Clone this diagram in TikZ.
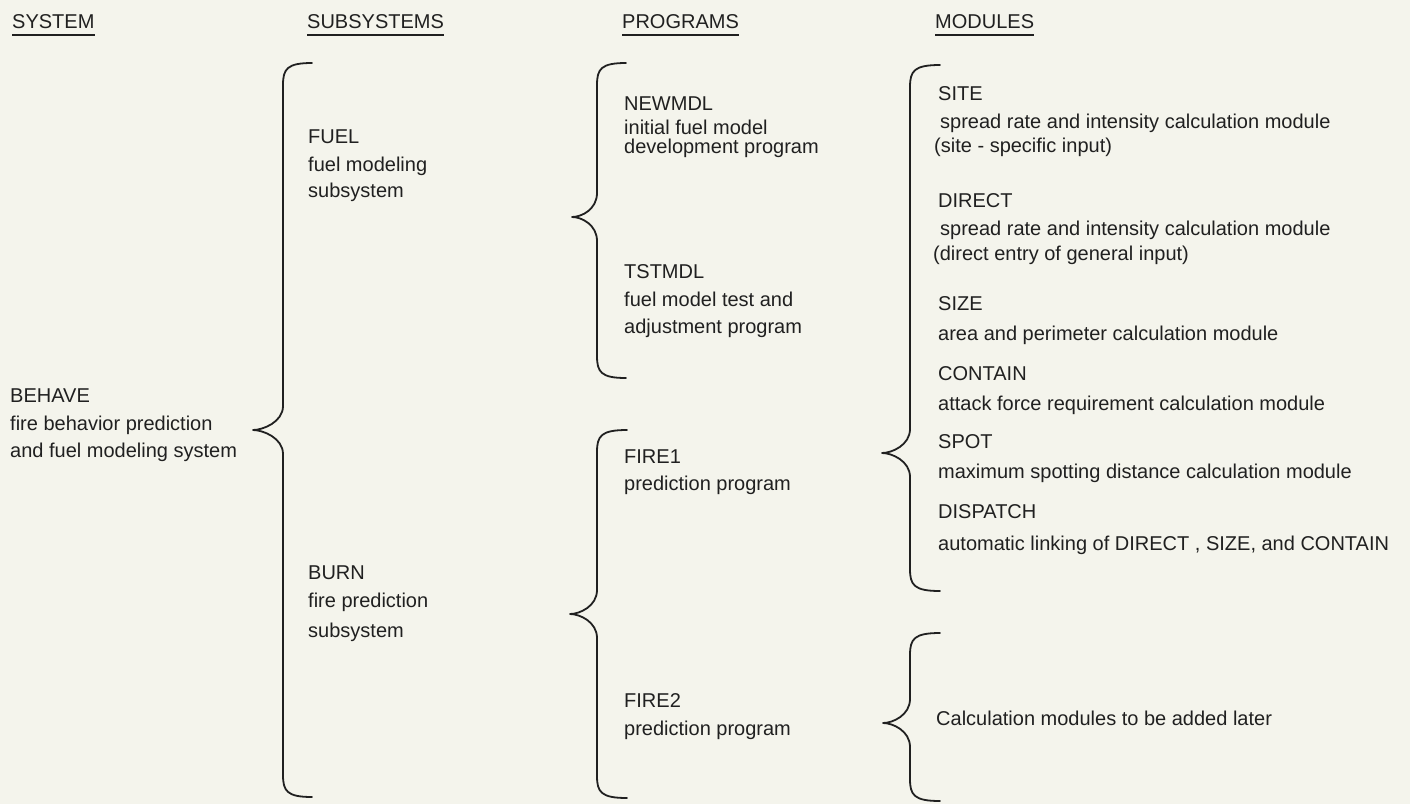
\documentclass[tikz,border=0pt]{standalone}
\usepackage{fontspec}
\setmainfont{Liberation Sans}
\definecolor{paper}{RGB}{244,244,236}
\definecolor{ink}{RGB}{32,32,32}
\tikzset{
  txt/.style={anchor=base west, inner sep=0pt, text=ink, font=\fontsize{20}{24}\selectfont},
  brc/.style={draw=ink, line width=1.8pt, line cap=round, line join=round},
  uline/.style={draw=ink, line width=1.6pt}
}
% x of stem, x of tip, x of ends, y of top, y of tip, y of bottom
\newcommand{\fbrace}[6]{%
  \draw[brc] (#3,#4) .. controls (#1+4,#4) and (#1,#4+6) .. (#1,#4+22)
    -- (#1,#5-24) .. controls (#1,#5-8) and (#2+10,#5) .. (#2,#5)
    .. controls (#2+10,#5) and (#1,#5+8) .. (#1,#5+24)
    -- (#1,#6-22) .. controls (#1,#6-6) and (#1+4,#6) .. (#3,#6);}

\begin{document}
\begin{tikzpicture}[x=1pt, y=-1pt]
\path[use as bounding box, fill=paper] (0,0) rectangle (1410,804);

\node[txt] (hsys)  at (12,28)  {SYSTEM};
\node[txt] (hsub)  at (307,28) {SUBSYSTEMS};
\node[txt] (hprog) at (622,28) {PROGRAMS};
\node[txt] (hmod)  at (935,28) {MODULES};
\foreach \h in {hsys,hsub,hprog,hmod}
  \draw[uline] ([yshift=-7pt]\h.base west) -- ([yshift=-7pt]\h.base east);

\foreach \y/\t [count=\i] in {402/BEHAVE, 430/fire behavior prediction, 457/and fuel modeling system}
  \node[txt] (sys\i) at (10,\y) {\t};

\foreach \y/\t [count=\i] in {143/FUEL, 171/fuel modeling, 197/subsystem,
                              579/BURN, 607/fire prediction, 637/subsystem}
  \node[txt] (sub\i) at (308,\y) {\t};

\foreach \y/\t [count=\i] in {110/NEWMDL, 134/initial fuel model, 153/development program,
                              278/TSTMDL, 306/fuel model test and, 333/adjustment program,
                              463/FIRE1, 490/prediction program,
                              707/FIRE2, 735/prediction program}
  \node[txt] (prog\i) at (624,\y) {\t};

\foreach \x/\y/\t [count=\i] in {938/100/SITE, 940/128/spread rate and intensity calculation module,
                                 934/152/{(site - specific input)},
                                 938/207/DIRECT, 940/235/spread rate and intensity calculation module,
                                 933/260/{(direct entry of general input)},
                                 938/310/SIZE, 938/340/area and perimeter calculation module,
                                 938/380/CONTAIN, 938/410/attack force requirement calculation module,
                                 938/448/SPOT, 938/478/maximum spotting distance calculation module,
                                 938/518/DISPATCH, 938/550/{automatic linking of DIRECT , SIZE, and CONTAIN},
                                 936/725/Calculation modules to be added later}
  \node[txt] (mod\i) at (\x,\y) {\t};

\fbrace{283}{253}{312}{63}{430}{797}
\fbrace{597}{572}{626}{63}{217}{378}
\fbrace{597}{570}{627}{430}{614}{798}
\fbrace{910}{882}{940}{65}{453}{591}
\fbrace{910}{883}{940}{633}{723}{801}
\end{tikzpicture}
\end{document}
